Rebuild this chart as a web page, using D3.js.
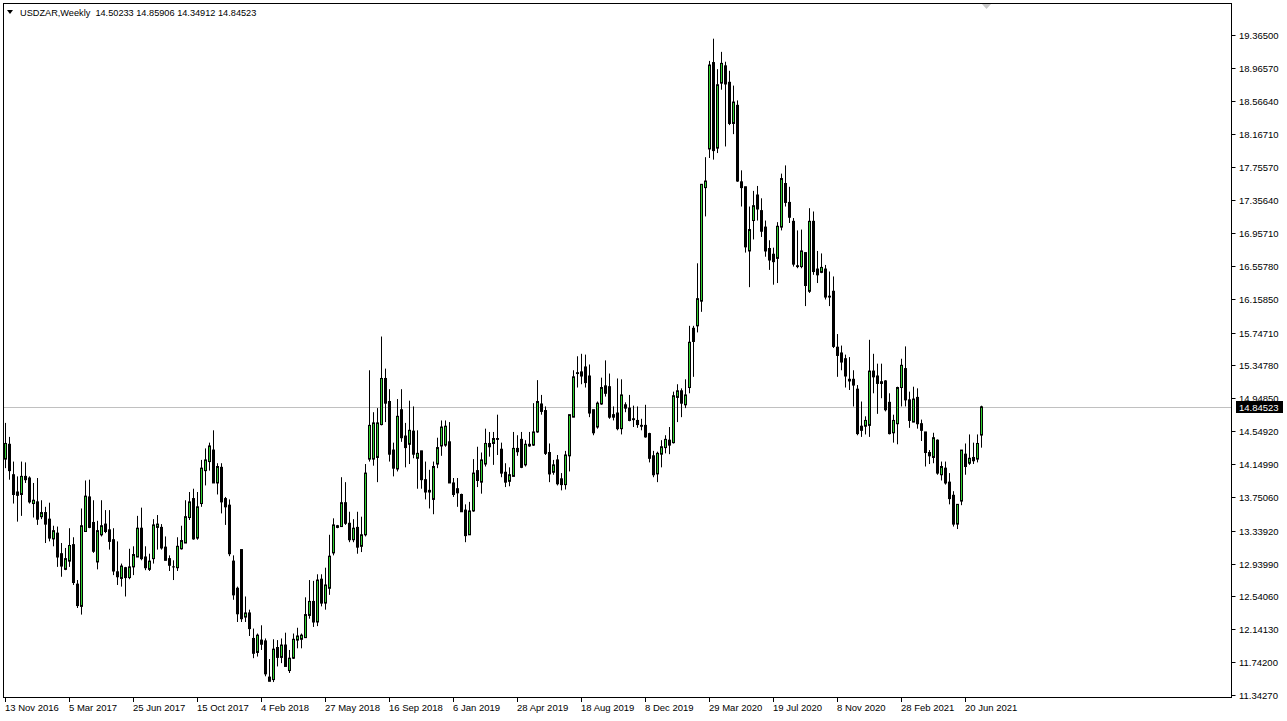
<!DOCTYPE html>
<html><head><meta charset="utf-8">
<script src="https://cdn.jsdelivr.net/npm/d3@7"></script>
<style>
html,body{margin:0;padding:0;background:#fff;}
svg{display:block;}
text{font-family:"Liberation Sans",Arial,sans-serif;font-size:9.5px;fill:#000;}
</style></head>
<body><svg id="c" width="1287" height="721"></svg>
<script>
const symbol = "USDZAR,Weekly";
const lastQuote = ["14.50233","14.85906","14.34912","14.84523"];
const currentPrice = 14.84523;
const dateLabels = ["13 Nov 2016","5 Mar 2017","25 Jun 2017","15 Oct 2017","4 Feb 2018","27 May 2018","16 Sep 2018","6 Jan 2019","28 Apr 2019","18 Aug 2019","8 Dec 2019","29 Mar 2020","19 Jul 2020","8 Nov 2020","28 Feb 2021","20 Jun 2021"];
const priceTicks = [19.365,18.9657,18.5664,18.1671,17.7557,17.3564,16.9571,16.5578,16.1585,15.7471,15.3478,14.9485,14.5492,14.1499,13.7506,13.3392,12.9399,12.5406,12.1413,11.742,11.3427];

const open = [14.21,14.39,14.02,13.81,13.78,14.00,13.98,13.67,13.69,13.51,
13.56,13.48,13.24,13.31,13.06,12.87,12.97,13.17,12.69,12.42,
13.33,13.75,13.44,12.96,13.29,13.42,13.35,13.23,12.84,12.76,
12.89,12.77,12.90,13.02,13.37,13.02,12.87,13.00,13.38,13.38,
13.14,13.00,12.90,12.89,13.12,13.19,13.50,13.73,13.25,13.67,
14.07,14.18,14.32,13.92,14.11,13.73,13.65,12.97,12.64,13.11,
12.29,12.34,12.03,11.86,12.01,12.00,11.56,11.53,11.92,11.80,
11.95,11.64,11.79,12.01,12.02,12.04,12.31,12.48,12.23,12.75,
12.46,12.64,13.07,13.40,13.39,13.68,13.43,13.23,13.38,13.15,
13.29,14.21,14.21,14.23,14.63,15.19,14.91,14.32,14.09,14.81,
14.49,14.39,14.55,14.22,14.31,13.96,13.83,13.72,14.15,14.37,
14.38,14.42,13.92,13.85,13.78,13.59,13.29,13.58,14.07,13.93,
14.15,14.40,14.40,14.46,14.33,14.05,13.94,14.00,14.34,14.45,
14.14,14.39,14.38,14.54,14.88,14.80,14.29,14.05,14.20,13.97,
13.90,14.25,14.72,15.26,15.27,15.33,15.22,14.81,14.60,14.88,
15.10,15.09,14.75,14.77,14.58,14.87,14.83,14.70,14.68,14.62,
14.62,14.52,14.25,14.03,14.27,14.35,14.44,14.41,14.96,15.04,
14.87,15.08,15.80,15.83,16.13,17.51,17.98,19.03,17.99,18.78,
18.99,18.79,18.29,18.51,17.58,17.52,16.74,17.11,17.42,17.23,
17.03,16.77,16.70,16.65,17.03,17.56,17.33,17.10,16.56,16.55,
16.72,16.25,17.10,16.52,16.48,16.52,16.19,16.25,15.57,15.50,
15.43,15.18,15.18,15.06,14.61,14.61,14.62,15.28,15.22,15.15,
15.16,14.90,14.53,14.64,15.08,15.31,14.93,14.66,14.96,14.64,
14.54,14.29,14.23,14.44,14.02,14.10,13.93,13.77,13.42,13.70,
14.27,14.16,14.23,14.21,14.50233];

const high = [14.65,14.48,14.18,14.00,14.18,14.17,14.00,13.92,13.98,13.71,
13.63,13.68,13.40,13.39,13.19,13.13,13.37,13.26,12.74,13.61,
13.95,13.96,13.71,13.46,13.71,13.59,13.59,13.37,13.21,12.94,
12.90,13.12,13.15,13.52,13.62,13.15,13.06,13.48,13.53,13.42,
13.27,13.04,12.98,13.26,13.40,13.71,13.81,13.85,13.81,14.20,
14.34,14.41,14.56,14.16,14.16,13.75,13.72,13.04,12.66,13.11,
12.54,12.38,12.15,12.09,12.19,12.03,11.78,12.02,12.01,12.03,
12.10,11.89,12.09,12.16,12.09,12.53,12.74,12.73,12.81,12.81,
12.89,13.29,13.49,13.41,13.99,13.93,13.57,13.48,13.57,13.51,
14.15,15.29,14.78,14.83,15.70,15.31,15.06,14.41,14.94,15.06,
14.65,14.92,14.85,14.56,14.31,14.18,14.08,14.18,14.47,14.68,
14.68,14.66,13.98,13.98,13.79,13.66,13.69,14.21,14.36,14.29,
14.58,14.54,14.54,14.75,14.41,14.16,14.11,14.54,14.50,14.54,
14.44,14.54,14.89,15.17,14.99,14.85,14.40,14.20,14.26,14.04,
14.31,14.75,15.29,15.46,15.49,15.48,15.36,14.81,14.91,15.20,
15.41,15.25,14.85,15.19,15.18,14.90,14.99,14.86,14.85,14.70,
14.87,14.53,14.31,14.30,14.44,14.50,14.60,15.03,15.12,15.07,
15.18,15.83,15.83,16.59,17.55,17.88,19.05,19.32,18.95,19.16,
19.04,18.93,18.75,18.57,17.72,17.52,17.28,17.47,17.53,17.38,
17.11,16.87,16.78,17.09,17.68,17.78,17.52,17.14,16.99,17.00,
16.72,17.26,17.22,16.74,16.71,16.57,16.49,16.43,15.73,15.59,
15.48,15.45,15.29,15.11,14.91,14.73,15.66,15.49,15.37,15.37,
15.17,15.01,14.75,15.09,15.43,15.58,15.03,15.09,15.07,14.69,
14.54,14.32,14.53,14.45,14.18,14.18,14.04,13.82,13.66,14.32,
14.40,14.51,14.41,14.51,14.85906];

const low = [14.10,13.96,13.67,13.45,13.52,13.92,13.67,13.50,13.41,13.48,
13.19,13.21,13.15,12.90,12.78,12.86,12.90,12.68,12.40,12.32,
13.33,13.37,13.07,12.87,13.27,13.31,13.11,12.80,12.68,12.66,
12.54,12.75,12.80,13.02,12.98,12.86,12.85,12.94,13.11,13.11,
12.98,12.85,12.74,12.85,13.11,13.19,13.47,13.23,13.23,13.63,
13.89,14.07,13.92,13.78,13.55,13.41,13.03,12.50,12.23,12.23,
12.23,12.06,11.79,11.81,11.89,11.57,11.51,11.50,11.69,11.73,
11.69,11.61,11.78,11.91,11.91,12.04,12.27,12.17,12.18,12.42,
12.38,12.56,13.04,13.37,13.39,13.41,13.20,13.20,13.06,13.08,
13.27,14.18,14.13,13.93,14.62,14.66,14.18,14.00,14.06,14.42,
14.11,14.15,14.22,13.85,13.85,13.72,13.61,13.54,14.10,14.25,
14.36,13.92,13.75,13.63,13.57,13.20,13.29,13.57,13.87,13.79,
14.12,14.24,14.14,14.26,13.99,13.87,13.88,14.00,14.25,14.10,
14.12,14.36,14.37,14.53,14.75,14.26,13.93,14.02,13.89,13.83,
13.84,14.06,14.72,15.08,15.12,15.08,14.72,14.50,14.58,14.87,
14.97,14.70,14.68,14.56,14.51,14.78,14.67,14.60,14.59,14.56,
14.47,14.17,13.99,13.93,14.11,14.28,14.27,14.40,14.66,14.72,
14.83,15.01,15.21,15.75,16.00,17.16,17.87,17.85,17.93,18.70,
18.01,18.27,18.16,17.58,17.28,16.72,16.30,16.88,17.11,16.91,
16.67,16.51,16.33,16.35,16.99,17.28,17.08,16.55,16.53,16.53,
16.07,16.23,16.45,16.35,16.47,16.15,16.07,15.56,15.21,15.29,
15.08,15.05,14.85,14.50,14.48,14.51,14.48,15.01,14.76,14.95,
14.79,14.51,14.41,14.39,14.85,14.85,14.59,14.66,14.58,14.43,
14.12,14.15,14.16,14.02,13.95,13.90,13.66,13.39,13.36,13.65,
14.02,14.14,14.15,14.17,14.34912];

const close = [14.40,14.07,13.78,13.77,14.00,13.96,13.69,13.71,13.48,13.56,
13.42,13.25,13.34,13.02,12.91,13.00,13.16,12.71,12.43,13.40,
13.76,13.38,13.09,13.34,13.40,13.33,13.21,12.85,12.78,12.91,
12.77,12.90,13.05,13.37,13.00,12.89,12.97,13.41,13.42,13.13,
12.98,12.92,12.90,13.15,13.22,13.51,13.69,13.24,13.63,14.10,
14.20,14.37,13.92,14.12,13.69,13.63,13.06,12.56,12.33,12.27,
12.34,12.15,11.85,12.07,11.96,11.60,11.51,11.90,11.80,11.95,
11.69,11.79,12.02,12.06,12.07,12.32,12.48,12.23,12.74,12.46,
12.68,13.03,13.41,13.38,13.68,13.43,13.23,13.37,13.14,13.29,
14.04,14.62,14.65,14.65,15.19,14.89,14.27,14.10,14.73,14.47,
14.35,14.56,14.27,14.28,13.96,13.81,13.81,14.12,14.35,14.60,
14.61,13.92,13.78,13.80,13.57,13.28,13.58,14.04,13.95,14.20,
14.40,14.36,14.46,14.45,14.04,13.93,14.02,14.34,14.30,14.11,
14.39,14.37,14.54,14.91,14.79,14.28,14.03,14.14,13.91,13.90,
14.26,14.75,15.21,15.25,15.22,15.14,14.77,14.53,14.89,15.08,
15.01,14.72,14.72,14.58,14.99,14.83,14.68,14.69,14.63,14.61,
14.48,14.22,14.02,14.28,14.36,14.45,14.38,14.98,15.04,14.89,
14.99,15.63,15.64,16.16,17.55,17.59,19.00,17.96,18.76,19.02,
18.77,18.29,18.55,17.59,17.51,16.79,17.00,17.29,17.25,16.98,
16.74,16.63,16.61,17.04,17.62,17.33,17.15,16.58,16.55,16.74,
16.32,17.10,16.49,16.45,16.54,16.18,16.18,15.58,15.47,15.39,
15.22,15.16,15.11,14.52,14.56,14.68,15.28,15.21,15.13,15.13,
14.81,14.52,14.68,15.08,15.35,14.93,14.68,14.94,14.64,14.56,
14.29,14.25,14.47,14.04,14.12,13.92,13.73,13.42,13.66,14.32,
14.12,14.22,14.19,14.40,14.84523];

const bullColor = "#2fd02f";
const W = 1287, H = 721;
const plot = {left:4, top:4, right:1231, bottom:698};

const svg = d3.select("#c");
svg.append("rect").attr("width",W).attr("height",H).attr("fill","#fff");

const n = close.length;
const candles = d3.range(n).map(i => ({i, o:open[i], h:high[i], l:low[i], c:close[i]}));

const x = d3.scaleLinear().domain([0, n-1]).range([5, 5 + 4*(n-1)]);
const y = d3.scaleLinear().domain([11.3427, 19.365]).range([695, 35]);

const g = svg.append("g");

g.append("line").attr("x1",plot.left).attr("x2",plot.right)
 .attr("y1",Math.round(y(currentPrice))+0.5).attr("y2",Math.round(y(currentPrice))+0.5)
 .attr("stroke","#c0c0c0").attr("stroke-width",1);

const cs = g.append("g").selectAll("g").data(candles).join("g");
cs.append("line")
  .attr("x1",d=>x(d.i)+0.5).attr("x2",d=>x(d.i)+0.5)
  .attr("y1",d=>y(d.h)).attr("y2",d=>y(d.l))
  .attr("stroke","#000").attr("stroke-width",1);
cs.append("rect")
  .attr("x",d=>x(d.i)-0.5).attr("width",2)
  .attr("y",d=>y(Math.max(d.o,d.c)))
  .attr("height",d=>Math.max(0.01, Math.abs(y(d.o)-y(d.c))))
  .attr("fill",d=>d.c>d.o?bullColor:"#000")
  .attr("stroke","#000").attr("stroke-width",1);

svg.append("rect").attr("x",plot.left-0.5).attr("y",plot.top-0.5)
 .attr("width",plot.right-plot.left+1).attr("height",plot.bottom-plot.top)
 .attr("fill","none").attr("stroke","#000").attr("stroke-width",1);

const ya = svg.append("g");
ya.selectAll("line").data(priceTicks).join("line")
  .attr("x1",plot.right+0.5).attr("x2",plot.right+4.5)
  .attr("y1",d=>Math.round(y(d))+0.5).attr("y2",d=>Math.round(y(d))+0.5)
  .attr("stroke","#000");
ya.selectAll("text").data(priceTicks).join("text")
  .attr("x",plot.right+8).attr("y",d=>Math.round(y(d))+4)
  .text(d=>d.toFixed(5));

const cy = Math.round(y(currentPrice));
svg.append("rect").attr("x",plot.right+5).attr("y",cy-6).attr("width",47).attr("height",12).attr("fill","#000");
svg.append("text").attr("x",plot.right+8).attr("y",cy+4).style("fill","#fff").text(currentPrice.toFixed(5));

const xa = svg.append("g");
xa.selectAll("line").data(dateLabels).join("line")
  .attr("x1",(d,k)=>x(k*16)+0.5).attr("x2",(d,k)=>x(k*16)+0.5)
  .attr("y1",plot.bottom).attr("y2",plot.bottom+4)
  .attr("stroke","#000");
xa.selectAll("text").data(dateLabels).join("text")
  .attr("x",(d,k)=>x(k*16)).attr("y",plot.bottom+13)
  .text(d=>d);

svg.append("path").attr("d","M7,10 L13,10 L10,14 Z").attr("fill","#000");
svg.append("text").attr("x",20).attr("y",16).attr("xml:space","preserve").style("white-space","pre").style("font-size","9.2px")
  .text(symbol + "  " + lastQuote.join(" "));

svg.append("path").attr("d","M982,4 L991,4 L986.5,9 Z").attr("fill","#c8c8c8");
</script>
</body></html>
